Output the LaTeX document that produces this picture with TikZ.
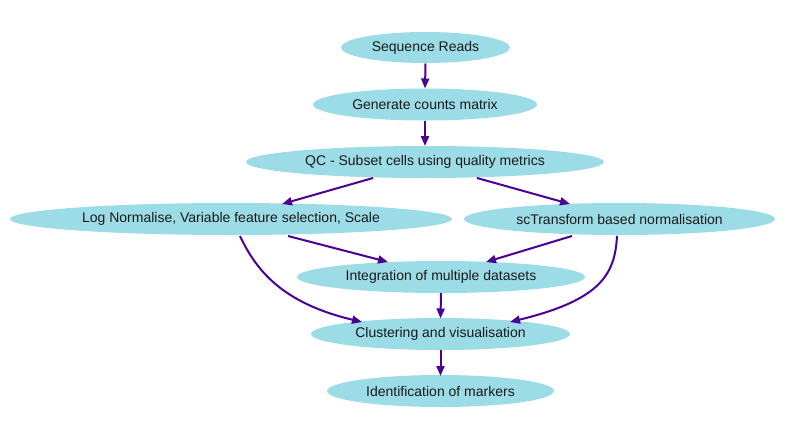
\documentclass[tikz,border=0pt]{standalone}
\usepackage{fontspec}
\setmainfont{Liberation Sans}
\usetikzlibrary{shapes.geometric,arrows.meta,calc}
\definecolor{nodefill}{HTML}{9BDCE6}
\definecolor{edgecol}{HTML}{4B0096}
\definecolor{txtcol}{HTML}{1A1A1A}
\newcommand{\eltext}[1]{\makebox[0pt]{\raisebox{-1.2pt}{#1}}}
\begin{document}
\begin{tikzpicture}[x=1pt,y=-1pt,
  el/.style={ellipse,fill=nodefill,draw=none,inner sep=0pt,text=txtcol,
    font=\fontsize{14}{16}\selectfont},
  edge/.style={draw=edgecol,line width=2pt,-{Triangle[length=10pt,width=8pt]}}]
\useasboundingbox (0,0) rectangle (787,432);
\node[el,minimum width=169,minimum height=31] (n1) at (425.5,47.5) {\eltext{Sequence Reads}};
\node[el,minimum width=224,minimum height=32] (n2) at (425,104.5) {\eltext{Generate counts matrix}};
\node[el,minimum width=358,minimum height=32] (n3) at (425,162) {\eltext{QC - Subset cells using quality metrics}};
\node[el,minimum width=442,minimum height=32] (n4) at (231,219) {\eltext{Log Normalise, Variable feature selection, Scale}};
\node[el,minimum width=311,minimum height=32] (n5) at (619.5,219) {\eltext{scTransform based normalisation}};
\node[el,minimum width=288,minimum height=32] (n6) at (441,277) {\eltext{Integration of multiple datasets}};
\node[el,minimum width=259,minimum height=32] (n7) at (440.5,334) {\eltext{Clustering and visualisation}};
\node[el,minimum width=227,minimum height=32] (n8) at (440.5,391) {\eltext{Identification of markers}};

\draw[edge] ($(n1.center)+(0,16)$) -- ($(n2.center)+(0,-16)$);
\draw[edge] ($(n2.center)+(0,16.5)$) -- ($(n3.center)+(0,-16)$);
\draw[edge] ($(n3.center)+(-52,16)$) -- ($(n4.center)+(51,-15)$);
\draw[edge] ($(n3.center)+(52,16)$) -- ($(n5.center)+(-49.5,-15)$);
\draw[edge] ($(n4.center)+(57,17)$) -- ($(n6.center)+(-53,-15)$);
\draw[edge] ($(n5.center)+(-47.5,17)$) -- ($(n6.center)+(45,-15)$);
\draw[edge] ($(n4.center)+(9,17)$) .. controls ($(n4.center)+(25,51)$) and ($(n4.center)+(51,84)$) .. ($(n7.center)+(-78.5,-12)$);
\draw[edge] ($(n5.center)+(-2.5,17)$) .. controls ($(n5.center)+(-4.5,56)$) and ($(n5.center)+(-19.5,81)$) .. ($(n7.center)+(69.5,-12)$);
\draw[edge] ($(n6.center)+(0,16)$) -- ($(n7.center)+(0,-15.5)$);
\draw[edge] ($(n7.center)+(0,16)$) -- ($(n8.center)+(0,-15)$);
\end{tikzpicture}
\end{document}
